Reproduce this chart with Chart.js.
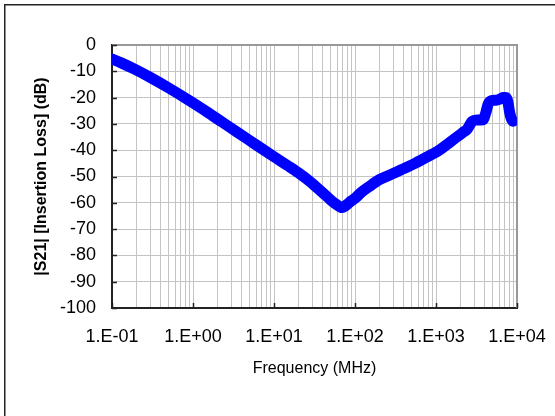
<!DOCTYPE html>
<html>
<head>
<meta charset="utf-8">
<script src="https://cdn.jsdelivr.net/npm/chart.js@4"></script>
<style>
  html, body { margin: 0; padding: 0; background: #fff; }
  #c { display: block; }
</style>
</head>
<body>
<canvas id="c" width="555" height="416"></canvas>
<script>
// ---- Data ----
const FREQ_MHZ = [0.1, 0.13, 0.19, 0.3, 0.5, 0.76, 1, 1.5, 2.26, 3.5, 5, 7.3, 10, 15, 20, 28, 35, 45, 55, 62, 67, 70, 74, 80, 90, 100, 120, 150, 200, 300, 400, 550, 700, 900, 1100, 1400, 1700, 2000, 2200, 2400, 2600, 2800, 3200, 3800, 4100, 4400, 4800, 5500, 6200, 6800, 7300, 7700, 8100, 8500, 8900];
const S21_DB   = [-5.3, -6.8, -9.2, -12.4, -16.3, -19.7, -22.0, -25.5, -29.2, -33.1, -36.3, -39.7, -42.5, -46.0, -48.6, -52.0, -54.6, -57.6, -60.0, -61.1, -61.7, -61.8, -61.4, -60.6, -59.3, -58.3, -56.0, -53.8, -51.2, -48.8, -47.0, -45.0, -43.3, -41.5, -40.0, -37.6, -35.6, -34.0, -33.0, -32.2, -30.5, -29.0, -28.5, -28.4, -26.0, -22.5, -21.2, -21.0, -20.5, -20.0, -20.0, -21.5, -25.5, -28.0, -29.0];
const X_TICK_VALUES = [0.1, 1, 10, 100, 1000, 10000];
const X_TICK_LABELS = ['1.E-01', '1.E+00', '1.E+01', '1.E+02', '1.E+03', '1.E+04'];
const Y_TICK_VALUES = [0, -10, -20, -30, -40, -50, -60, -70, -80, -90, -100];
const X_TITLE = 'Frequency (MHz)';
const Y_TITLE = '|S21| [Insertion Loss] (dB)';

const points = FREQ_MHZ.map((f, i) => ({ x: f, y: S21_DB[i] }));

function labelFor(v) {
  for (let i = 0; i < X_TICK_VALUES.length; i++) {
    if (Math.abs(Math.log10(v) - Math.log10(X_TICK_VALUES[i])) < 1e-6) return X_TICK_LABELS[i];
  }
  return '';
}

const framePlugin = {
  id: 'frame',
  beforeDraw(chart) {
    const ctx = chart.ctx;
    ctx.save();
    ctx.fillStyle = '#fff';
    ctx.fillRect(0, 0, chart.width, chart.height);
    ctx.strokeStyle = '#222';
    ctx.lineWidth = 1.5;
    ctx.beginPath();
    ctx.moveTo(4.75, chart.height + 2);
    ctx.lineTo(4.75, 4.75);
    ctx.lineTo(chart.width + 2, 4.75);
    ctx.stroke();
    ctx.restore();
  },
  beforeDatasetsDraw(chart) {
    const ctx = chart.ctx;
    const a = chart.chartArea;
    const xs = chart.scales.x, ys = chart.scales.y;
    ctx.save();
    ctx.strokeStyle = '#999';
    ctx.lineWidth = 2;
    ctx.beginPath();
    ctx.moveTo(a.left, a.top);
    ctx.lineTo(a.right, a.top);
    ctx.lineTo(a.right, a.bottom);
    ctx.stroke();
    ctx.strokeStyle = '#222';
    ctx.lineWidth = 1.5;
    ctx.beginPath();
    Y_TICK_VALUES.forEach(v => {
      const py = Math.round(ys.getPixelForValue(v)) + 0.5;
      ctx.moveTo(a.left, py);
      ctx.lineTo(a.left + 5, py);
    });
    X_TICK_VALUES.forEach(v => {
      const px = Math.round(xs.getPixelForValue(v)) + 0.5;
      ctx.moveTo(px, a.bottom);
      ctx.lineTo(px, a.bottom - 5);
    });
    ctx.stroke();
    ctx.restore();
  }
};

new Chart(document.getElementById('c'), {
  type: 'line',
  data: {
    datasets: [{
      data: points,
      borderColor: '#0000FF',
      backgroundColor: '#0000FF',
      borderWidth: 11,
      borderCapStyle: 'round',
      borderJoinStyle: 'round',
      pointRadius: 0,
      cubicInterpolationMode: 'monotone',
      fill: false
    }]
  },
  options: {
    responsive: false,
    devicePixelRatio: 1,
    animation: false,
    layout: { padding: { left: 0, right: 38, top: 45, bottom: 0 } },
    plugins: { legend: { display: false }, tooltip: { enabled: false } },
    scales: {
      x: {
        type: 'logarithmic',
        min: 0.1,
        max: 10000,
        afterBuildTicks(scale) {
          const t = [];
          for (let d = 0; d < X_TICK_VALUES.length; d++) {
            const base = X_TICK_VALUES[d];
            const last = d === X_TICK_VALUES.length - 1 ? 1 : 9;
            for (let m = 1; m <= last; m++) t.push({ value: +(base * m).toPrecision(6) });
          }
          scale.ticks = t;
        },
        afterFit(scale) { scale.height = 108; scale.paddingLeft = 0; scale.paddingRight = 0; },
        grid: { color: '#c4c4c4', lineWidth: 1, drawTicks: false },
        border: { color: '#222', width: 2 },
        ticks: {
          autoSkip: false,
          maxRotation: 0,
          minRotation: 0,
          padding: 18,
          color: '#000',
          font: { family: '"Liberation Sans", Arial, sans-serif', size: 18 },
          callback: (v) => labelFor(v)
        },
        title: {
          display: true,
          text: X_TITLE,
          color: '#000',
          font: { family: '"Liberation Sans", Arial, sans-serif', size: 16 },
          padding: { top: 0, bottom: 38 }
        }
      },
      y: {
        min: -100,
        max: 0,
        afterBuildTicks(scale) {
          scale.ticks = Y_TICK_VALUES.slice().reverse().map(v => ({ value: v }));
        },
        afterFit(scale) { scale.width = 112; scale.paddingTop = 0; scale.paddingBottom = 0; },
        grid: { color: '#c4c4c4', lineWidth: 1, drawTicks: false },
        border: { color: '#222', width: 2 },
        ticks: {
          padding: 16,
          color: '#000',
          font: { family: '"Liberation Sans", Arial, sans-serif', size: 18 }
        },
        title: {
          display: true,
          text: Y_TITLE,
          color: '#000',
          font: { family: '"Liberation Sans", Arial, sans-serif', size: 16, weight: 'bold' },
          padding: { top: 32, bottom: 0 }
        }
      }
    }
  },
  plugins: [framePlugin]
});
</script>
</body>
</html>
